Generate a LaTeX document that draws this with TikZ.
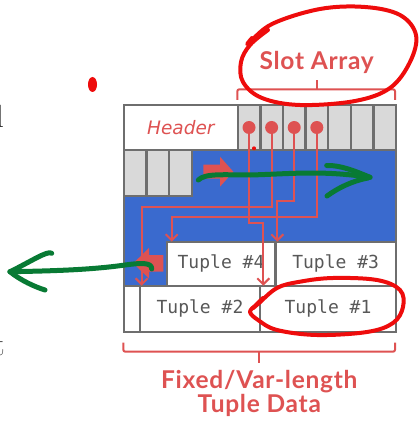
\documentclass[tikz,border=0pt]{standalone}
\usepackage{fontspec}
\newfontfamily\labelfont{Lato}[LetterSpace=3]
\newfontfamily\hdrfont{DejaVu Sans}
\newfontfamily\tuplefont{DejaVu Sans Mono}
\usetikzlibrary{arrows.meta}

\definecolor{frame}{RGB}{110,110,110}
\definecolor{pageblue}{RGB}{58,106,206}
\definecolor{cellgray}{RGB}{217,217,217}
\definecolor{ptrred}{RGB}{222,82,82}
\definecolor{inkred}{RGB}{238,12,12}
\definecolor{inkgreen}{RGB}{8,122,52}
\definecolor{tupletext}{RGB}{88,88,88}

\tikzset{
  box/.style={draw=frame, line width=2.4pt, anchor=north west,
    inner sep=0pt, outer sep=0pt},
  cell/.style={box, fill=cellgray},
  whitebox/.style={box, fill=white},
  tuplebox/.style={whitebox, font=\tuplefont\fontsize{18}{18}\selectfont,
    text=tupletext},
  ptr/.style={draw=ptrred, line width=2pt,
    -{Straight Barb[length=6pt,width=12pt,line width=2pt]}},
  slotdot/.style={circle, fill=ptrred, minimum size=13pt, inner sep=0pt},
  brace/.style={draw=ptrred, line width=2pt, rounded corners=2pt},
  bigtext/.style={text=ptrred, font=\labelfont\bfseries\fontsize{24.5}{21.7}\selectfont,
    inner sep=0pt},
  blockarrow/.style={fill=ptrred},
  greenink/.style={draw=inkgreen, line width=5pt, line cap=round, line join=round},
  redink/.style={draw=inkred, line width=4pt, line cap=round, line join=round},
  stray/.style={font=\fontsize{32}{32}\selectfont, text=black!85, inner sep=0pt}
}

\begin{document}
\begin{tikzpicture}[x=1pt,y=-1pt]
\useasboundingbox (0,0) rectangle (419,422);
\clip (0,0) rectangle (419,422);

% ends of text lines running in from the left
\node[stray, anchor=base east] (strayl) at (4,128) {l};
\node[stray, anchor=base east] (strayt) at (5,355) {t};

% free space of the page
\fill[pageblue] (124,150) rectangle (396,285.7);

% header and slot array
\node[whitebox, minimum width=113.7pt, minimum height=45pt] (hdr) at (124,105)
  {\hdrfont\itshape\fontsize{18.5}{18.5}\selectfont\textcolor{ptrred}{Header}};
\foreach \i in {0,...,6}
  \node[cell, minimum width=22.61pt, minimum height=45pt] (slot\i) at (237.7+\i*22.61,105) {};

% slots that are still free, growing to the right
\foreach \i in {0,1,2}
  \node[cell, minimum width=22.57pt, minimum height=46pt] (free\i) at (124+\i*22.57,150) {};

% tuple data, filled from the end of the page
\node[tuplebox, minimum width=108.6pt, minimum height=44pt] (t4) at (166.7,241.7) {Tuple \#4};
\node[tuplebox, minimum width=120.7pt, minimum height=44pt] (t3) at (275.3,241.7) {Tuple \#3};
\node[whitebox, minimum width=16pt, minimum height=46pt] (pad) at (124,285.7) {};
\node[tuplebox, minimum width=120pt, minimum height=46pt] (t2) at (140,285.7) {Tuple \#2};
\node[tuplebox, minimum width=136pt, minimum height=46pt] (t1) at (260,285.7) {Tuple \#1};

% page outline
\draw[frame, line width=2.4pt] (124,105) rectangle (396,331.7);

% slot pointers
\node[slotdot] (d1) at (slot0.center) {};
\node[slotdot] (d2) at (slot1.center) {};
\node[slotdot] (d3) at (slot2.center) {};
\node[slotdot] (d4) at (slot3.center) {};
\coordinate (b1) at (263.3,223.3);
\coordinate (b2) at (141.7,206.7);
\coordinate (b3) at (277.3,201);
\coordinate (b4) at (171.7,216.7);
\draw[ptr] (d1.center) |- (b1) -- (b1 |- t1.north);
\draw[ptr] (d2.center) |- (b2) -- (b2 |- t2.north);
\draw[ptr] (d3.center) |- (b3) -- (b3 |- t3.north);
\draw[ptr] (d4.center) |- (b4) -- (b4 |- t4.north);

% growth directions
\fill[blockarrow] (203.3,164.5) -- (220,164.5) -- (220,156.7) -- (233.3,171.7)
  -- (220,186.7) -- (220,178.5) -- (203.3,178.5) -- cycle;
\fill[blockarrow] (163.3,255) -- (149,255) -- (149,248) -- (133.3,263.3)
  -- (149,278.5) -- (149,271.7) -- (163.3,271.7) -- cycle;

% braces and captions
\draw[brace] (237.3,100) -- (237.3,89.3) -- (395,89.3) -- (395,100);
\draw[brace] (316.7,89.3) -- (316.7,80);
\node[bigtext, anchor=base] (slotlbl) at (316.7,70) {Slot Array};
\draw[brace] (123.3,342.7) -- (123.3,351.7) -- (395,351.7) -- (395,342.7);
\draw[brace] (259.3,351.7) -- (259.3,363.3);
\node[bigtext, align=center, anchor=north] (datalbl) at (259.3,370.3)
  {Fixed/Var-length\\Tuple Data};

% pen marks: green arrows
\draw[greenink] (198.3,180) .. controls (205,173) and (225,175) .. (250,175)
  .. controls (290,174) and (320,170) .. (370,177.3);
\draw[greenink] (326.7,165.5) .. controls (340,165) and (355,171) .. (370,177.3);
\draw[greenink] (327,196) .. controls (338,188) and (352,181) .. (368,178);
\draw[greenink] (151.7,269) .. controls (152,262) and (140,263) .. (125,265)
  .. controls (90,270) and (50,271) .. (10,271.7);
\draw[greenink] (51.7,253.3) .. controls (48,250) and (30,262) .. (10,271.7);
\draw[greenink] (10,271.7) .. controls (20,280) and (35,287) .. (45,290);

% pen marks: red circles and dots
\draw[redink] plot[smooth, tension=0.6] coordinates {
  (252,38) (248,44) (272,24) (320,9) (365,7) (400,15) (416,35) (410,62)
  (390,88) (355,101) (300,105) (262,98) (243,82) (241,62) (250,45) (268,30)};
\draw[redink] plot[smooth, tension=0.6] coordinates {
  (263,298) (253,308) (258,304) (277,288) (300,281.7) (333,278) (377,280)
  (400,290) (403,307) (393,323) (367,332) (317,335) (277,330) (258,320)
  (250,312) (255,306)};
\fill[inkred] (92.5,84.5) ellipse [x radius=4.5, y radius=7.5];
\fill[inkred] (254,148.3) circle [radius=2];
\end{tikzpicture}
\end{document}
